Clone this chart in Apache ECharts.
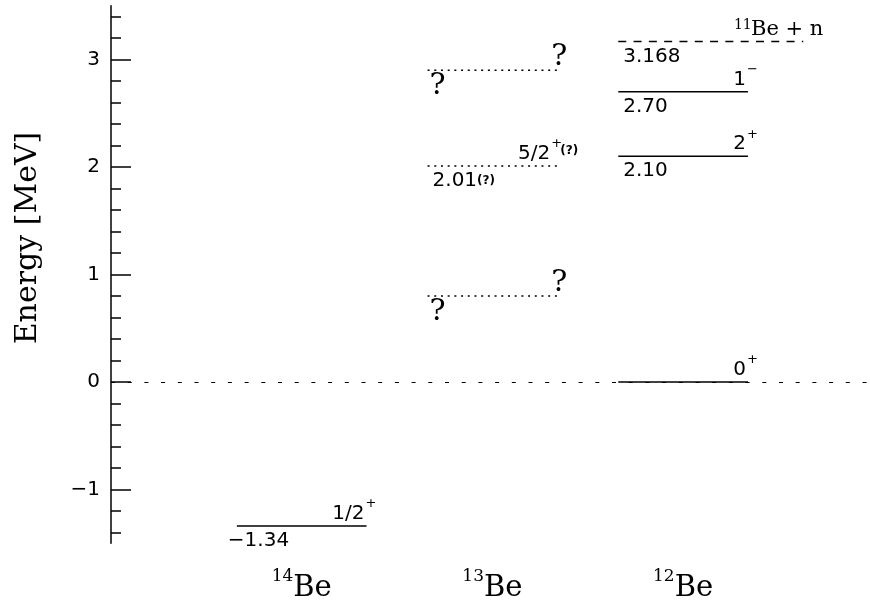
<!DOCTYPE html>
<html>
<head>
<meta charset="utf-8">
<script src="https://cdn.jsdelivr.net/npm/echarts@6/dist/echarts.min.js"></script>
<style>
  html, body { margin: 0; padding: 0; background: #fff; }
  #chart { width: 870px; height: 602px; }
</style>
</head>
<body>
<div id="chart"></div>
<script>
// Level scheme of the neutron-rich beryllium isotopes 14Be, 13Be and 12Be.

// Isotopes, one column each (left to right)
const nucleusMass = ['14', '13', '12'];
const nucleusSymbol = 'Be';

// Levels: column index, energy [MeV], spin, parity, tentative flag, printed energy
const levelNucleus = [0, 1, 1, 1, 2, 2, 2];
const levelEnergy = [-1.34, 0.80, 2.01, 2.90, 0.00, 2.10, 2.70];
const levelSpin = ['1/2', '?', '5/2', '?', '0', '2', '1'];
const levelParity = ['+', '', '+', '', '+', '+', '\u2212'];
const levelTentative = [false, true, true, true, false, false, false];
const levelShowEnergy = [true, false, true, false, false, true, true];

// Neutron separation threshold in 12Be
const thresholdEnergy = 3.168;
const thresholdMass = '11';
const thresholdText = 'Be + n';

// Energy axis
const yMin = -1.5, yMax = 3.5;
const yMajorTicks = [-1, 0, 1, 2, 3];
const yMinorTicks = [-1.4, -1.2, -0.8, -0.6, -0.4, -0.2, 0.2, 0.4, 0.6, 0.8,
                     1.2, 1.4, 1.6, 1.8, 2.2, 2.4, 2.6, 2.8, 3.2, 3.4];

const SANS = '"DejaVu Sans", sans-serif';
const SERIF = '"DejaVu Serif", serif';
const HALF = 0.34;          // half length of a level bar, in column units
const THRESHOLD_RUN = 0.29; // extra length of the threshold line to the right

const minus = s => s.replace('-', '\u2212');
const fmtEnergy = (e, d) => minus(e.toFixed(d));

function txt(x, y, text, size, family, align, extra) {
  return {
    type: 'text', x: x, y: y, silent: true,
    style: Object.assign({
      text: text, fontSize: size, fontFamily: family, fill: '#000',
      align: align, verticalAlign: 'middle'
    }, extra || {})
  };
}

function renderLevel(params, api) {
  const i = params.dataIndex;
  const col = api.value(0), e = api.value(1);
  const a = api.coord([col - HALF, e]);
  const b = api.coord([col + HALF, e]);
  const y = a[1];
  const children = [{
    type: 'line', silent: true,
    shape: { x1: a[0], y1: y, x2: b[0], y2: y },
    style: { stroke: '#000', lineWidth: 1.5, lineDash: levelTentative[i] ? [2, 4.7] : null }
  }];
  if (levelSpin[i] === '?') {
    children.push(txt(b[0] - 6, y - 13, '?', 30, SERIF, 'left'));
    children.push(txt(a[0] + 2, y + 16, '?', 30, SERIF, 'left'));
  } else {
    // dotted (tentative) bars end a little early, so their labels sit further left
    const r = levelTentative[i] ? b[0] - 7 : b[0] - 2;
    children.push(txt(r, y - 12, levelSpin[i], 20, SANS, 'right'));
    children.push(txt(r + 1, y - 22, levelParity[i], 13, SANS, 'left'));
    if (levelTentative[i]) {
      children.push(txt(r + 10, y - 15, '(?)', 12, SANS, 'left', { fontWeight: 'bold' }));
    }
    if (levelShowEnergy[i]) {
      const s = fmtEnergy(e, 2);
      const shift = e < 0 ? 14 : 0;
      children.push(txt(a[0] + 5 - shift, y + 15,
        levelTentative[i] ? '{v|' + s + '}{q|(?)}' : s, 20, SANS, 'left', {
          rich: {
            v: { fontSize: 20, fontFamily: SANS, fill: '#000' },
            q: { fontSize: 12, fontFamily: SANS, fontWeight: 'bold', fill: '#000' }
          }
        }));
    }
  }
  return { type: 'group', children: children };
}

function renderThreshold(params, api) {
  const col = api.value(0), e = api.value(1);
  const a = api.coord([col - HALF, e]);
  const b = api.coord([col + HALF + THRESHOLD_RUN, e]);
  const c = api.coord([col + HALF, e]);
  const y = a[1];
  return {
    type: 'group',
    children: [
      {
        type: 'line', silent: true,
        shape: { x1: a[0], y1: y, x2: b[0], y2: y },
        style: { stroke: '#000', lineWidth: 1.5, lineDash: [8, 7.3] }
      },
      txt(c[0] - 14, y - 16, thresholdMass, 14, SERIF, 'left'),
      txt(c[0] + 3, y - 12, thresholdText, 21, SERIF, 'left'),
      txt(a[0] + 5, y + 15, fmtEnergy(e, 3), 20, SANS, 'left')
    ]
  };
}

function renderNucleus(params, api) {
  const col = api.value(0);
  const p = api.coord([col, yMin]);
  return {
    type: 'text', silent: true, x: p[0], y: p[1] + 25,
    style: {
      text: '{s|' + nucleusMass[params.dataIndex] + '}{m|' + nucleusSymbol + '}',
      align: 'center', verticalAlign: 'top',
      rich: {
        s: { fontSize: 17, fontFamily: SERIF, fill: '#000', verticalAlign: 'top', lineHeight: 12 },
        m: { fontSize: 29, fontFamily: SERIF, fill: '#000', verticalAlign: 'bottom', lineHeight: 35 }
      }
    }
  };
}

const chart = echarts.init(document.getElementById('chart'), null, { renderer: 'canvas' });

chart.setOption({
  backgroundColor: '#fff',
  animation: false,
  grid: { left: 111, right: 0, top: 5.75, bottom: 58.75 },
  xAxis: {
    type: 'value', min: 0, max: 3.98,
    show: false
  },
  yAxis: [
    {
      type: 'value', min: yMin, max: yMax, position: 'left',
      axisLine: { show: true, lineStyle: { color: '#000', width: 1.5 } },
      axisTick: { show: true, inside: true, length: 20, customValues: yMajorTicks,
                  lineStyle: { color: '#000', width: 1.5 } },
      axisLabel: { show: true, margin: 11, customValues: yMajorTicks, color: '#000',
                   fontSize: 20, fontFamily: SANS, formatter: v => minus(String(v)) },
      splitLine: { show: false }
    },
    {
      type: 'value', min: yMin, max: yMax, position: 'left', offset: 0,
      axisLine: { show: false },
      axisTick: { show: true, inside: true, length: 10, customValues: yMinorTicks,
                  lineStyle: { color: '#000', width: 1.5 } },
      axisLabel: { show: false },
      splitLine: { show: false }
    }
  ],
  graphic: [{
    type: 'text', x: 28, y: 238, rotation: Math.PI / 2, silent: true,
    style: { text: 'Energy [MeV]', fontFamily: SERIF, fontSize: 30, fill: '#000',
             align: 'center', verticalAlign: 'middle' }
  }],
  series: [
    {
      type: 'custom', name: 'levels', clip: false,
      renderItem: renderLevel,
      data: levelEnergy.map((e, i) => [levelNucleus[i] + 1, e]),
      markLine: {
        silent: true, symbol: ['none', 'none'], label: { show: false },
        lineStyle: { color: '#000', width: 1, type: [4, 12.7] },
        data: [{ yAxis: 0 }]
      }
    },
    {
      type: 'custom', name: 'threshold', clip: false,
      renderItem: renderThreshold,
      data: [[3, thresholdEnergy]]
    },
    {
      type: 'custom', name: 'nuclei', clip: false,
      renderItem: renderNucleus,
      data: nucleusMass.map((m, i) => [i + 1, yMin])
    }
  ]
});
</script>
</body>
</html>
